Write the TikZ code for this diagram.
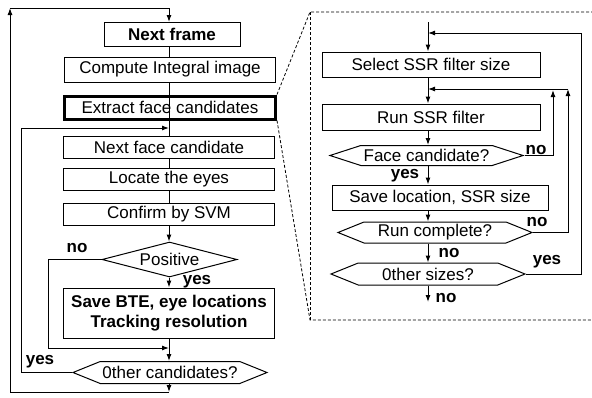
\documentclass[tikz,border=0pt]{standalone}
\usepackage{fontspec}
\setmainfont{Liberation Sans}
\usetikzlibrary{arrows.meta,shapes.geometric,shapes.symbols}
\tikzset{
  stepbox/.style={draw,rectangle,inner sep=0pt,minimum height=25pt},
  hexa/.style={draw,signal,signal to=west and east,signal pointer angle=44,inner sep=0pt},
  lbl/.style={font=\fontsize{17}{20}\selectfont\bfseries,inner sep=0pt},
  zoomline/.style={line width=0.8pt,dash pattern=on 3pt off 2pt}
}
\begin{document}
\begin{tikzpicture}[x=1pt,y=-1pt,line width=1pt,>={Latex[length=7pt,width=5pt]},
  font=\fontsize{17}{20}\selectfont]
\useasboundingbox (0,0) rectangle (592,397);

\coordinate (ls) at (169,0);
\coordinate (rs) at (428,0);

\begin{scope}[every node/.style={stepbox,minimum width=211pt}]
  \node[font=\fontsize{17}{20}\selectfont\bfseries,minimum width=136pt,minimum height=24pt] (frame) at (172,34.5) {Next frame};
  \node (comp)  at (170,69.5)  {Compute Integral image};
  \node[line width=3pt,minimum width=211pt,minimum height=23pt] (extr) at (170,107.5) {Extract face candidates};
  \node[minimum height=22pt] (nface) at (169,147) {Next face candidate};
  \node[minimum height=22pt] (loc)   at (169,179)   {Locate the eyes};
  \node[minimum height=22pt] (conf)  at (169,214)   {Confirm by SVM};
  \node[font=\fontsize{17}{20}\selectfont\bfseries,align=center,minimum height=50pt] (save) at (169,313)
    {Save BTE, eye locations\\Tracking resolution};
\end{scope}

\node[draw,diamond,aspect=3.8,inner sep=0pt,minimum width=135pt,minimum height=35pt] (pos) at (169.5,259.5) {Positive};
\node[hexa,minimum width=194pt,minimum height=22pt] (ocand) at (170,372.5) {0ther candidates?};

\begin{scope}[every node/.style={stepbox,minimum width=218pt}]
  \node (sel)  at (431,64.5) {Select SSR filter size};
  \node[minimum height=26pt] (run)  at (431,117)  {Run SSR filter};
  \node[minimum width=216pt] (sloc) at (440,197.5) {Save location, SSR size};
\end{scope}

\begin{scope}[every node/.style={hexa,minimum height=21pt}]
  \node[signal pointer angle=36,minimum width=193pt,minimum height=20pt] (face) at (426.5,155.5) {Face candidate?};
  \node[minimum width=194pt] (runc) at (435,232.5) {Run complete?};
  \node[minimum width=194pt,minimum height=22pt] (oth)  at (428,274)   {0ther sizes?};
\end{scope}

\coordinate (tl) at (10,8);
\coordinate (j1) at (169,128);
\coordinate (j2) at (169,348);
\coordinate (bot) at (169,392);
\coordinate (rt) at (428,22);
\coordinate (r1) at (428,33);
\coordinate (r2) at (428,89);
\coordinate (rb) at (428,302);
\coordinate (c1) at (553,90);
\coordinate (c2) at (568,89);
\coordinate (c3) at (581,33);
\coordinate (zt) at (310,12);
\coordinate (zb) at (310,320);

\draw[->] (tl) -| (frame.north -| ls);
\draw (frame.south -| ls) -- (comp.north -| ls);
\draw (comp.south -| ls) -- (extr.south -| ls);
\draw (extr.south -| ls) -- (nface.north -| ls);
\draw[->] (ocand.west) -- ++(-50,0) |- (j1);
\draw (nface.south -| ls) -- (loc.north -| ls);
\draw (loc.south -| ls) -- (conf.north -| ls);
\draw[->] (conf.south -| ls) -- (pos.north -| ls);
\draw[->] (pos.south -| ls) -- (save.north -| ls);
\draw[->] (pos.west) -- ++(-53,0) |- (j2);
\draw[->] (save.south -| ls) -- (ocand.north -| ls);
\draw[->] (ocand.south -| ls) -- (bot);
\draw[->] (bot) -| (tl);

\node[lbl] (lno1)  at (77,248)  {no};
\node[lbl] (lyes1) at (197,282) {yes};
\node[lbl] (lyes2) at (40,362)  {yes};

\draw[->] (rt) -- (sel.north -| rs);
\draw[->] (sel.south -| rs) -- (run.north -| rs);
\draw[->] (run.south -| rs) -- (face.north -| rs);
\draw[->] (face.south -| rs) -- (sloc.north -| rs);
\draw[->] (sloc.south -| rs) -- (runc.north -| rs);
\draw[->] (runc.south -| rs) -- (oth.north -| rs);
\draw[->] (oth.south -| rs) -- (rb);
\draw[->] (face.east) -| (c1);
\draw[->] (runc.east) -| (c2);
\draw[->] (c2) -- (r2);
\draw[->] (oth.east) -| (c3) -- (r1);

\node[lbl] (rno1)  at (536,150) {no};
\node[lbl] (ryes1) at (405,175.5) {yes};
\node[lbl] (rno2)  at (537,222) {no};
\node[lbl] (rno3)  at (449,253) {no};
\node[lbl] (ryes2) at (547,262) {yes};
\node[lbl] (rno4)  at (446,298) {no};

\draw[zoomline] (extr.north east) -- (zt) -- (592,12);
\draw[zoomline] (extr.south east) -- (zb) -- (592,320);
\draw[zoomline] (zt) -- (zb);

\end{tikzpicture}
\end{document}
